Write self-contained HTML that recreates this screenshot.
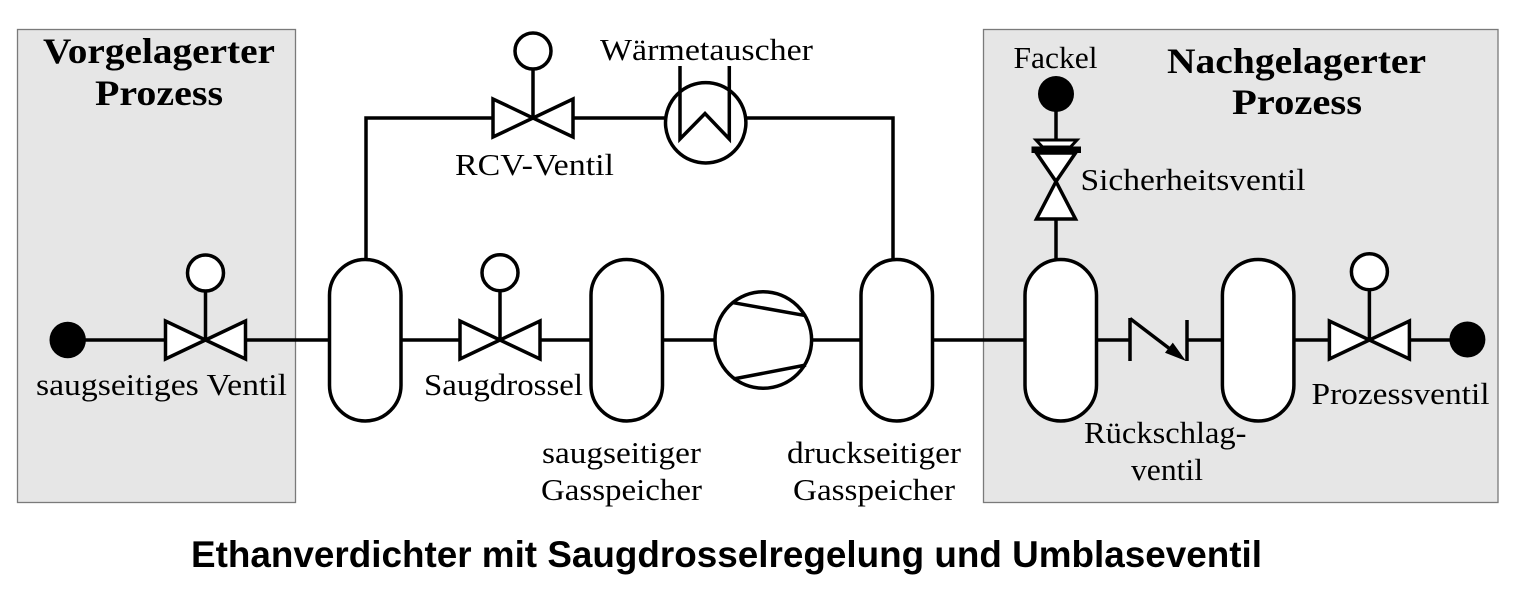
<!DOCTYPE html>
<html>
<head>
<meta charset="utf-8">
<style>
  html, body { margin: 0; padding: 0; background: #ffffff; }
  body { width: 1520px; height: 600px; overflow: hidden; }
  svg { display: block; }
  .lbl { font-family: "Liberation Serif", "DejaVu Serif", serif; font-size: 31px; fill: #000; }
  .hd { font-family: "Liberation Serif", "DejaVu Serif", serif; font-size: 36px; font-weight: bold; fill: #000; }
  .ttl { font-family: "Liberation Sans", Arial, sans-serif; font-size: 37px; font-weight: bold; fill: #000; }
</style>
</head>
<body>
<svg width="1520" height="600" viewBox="0 0 1520 600" xmlns="http://www.w3.org/2000/svg">
  <rect x="0" y="0" width="1520" height="600" fill="#ffffff"/>

  <!-- process boxes -->
  <rect x="17.5" y="29.5" width="278" height="473" fill="#e6e6e6" stroke="#7a7a7a" stroke-width="1.3"/>
  <rect x="983.5" y="29.5" width="514.5" height="473" fill="#e6e6e6" stroke="#7a7a7a" stroke-width="1.3"/>

  <g stroke="#000" stroke-width="3.5" fill="none" stroke-linejoin="miter">
    <!-- main line segments -->
    <line x1="68" y1="340" x2="165.5" y2="340"/>
    <line x1="245.5" y1="340" x2="329.5" y2="340"/>
    <line x1="401" y1="340" x2="460" y2="340"/>
    <line x1="540" y1="340" x2="591" y2="340"/>
    <line x1="662.5" y1="340" x2="715" y2="340"/>
    <line x1="811.5" y1="340" x2="861" y2="340"/>
    <line x1="932.5" y1="340" x2="1025" y2="340"/>
    <line x1="1096.5" y1="340" x2="1130" y2="340"/>
    <line x1="1187" y1="340" x2="1222.4" y2="340"/>
    <line x1="1293.9" y1="340" x2="1329.4" y2="340"/>
    <line x1="1409.4" y1="340" x2="1467" y2="340"/>

    <!-- bypass line -->
    <polyline points="366,259.5 366,118 493,118"/>
    <line x1="573" y1="118" x2="665" y2="118"/>
    <polyline points="746.5,118 893,118 893,259.5"/>

    <!-- tanks -->
    <rect x="329.5" y="259.5" width="71.5" height="161.5" rx="35.75" ry="35.75" fill="#fff"/>
    <rect x="591" y="259.5" width="71.5" height="161.5" rx="35.75" ry="35.75" fill="#fff"/>
    <rect x="861" y="259.5" width="71.5" height="161.5" rx="35.75" ry="35.75" fill="#fff"/>
    <rect x="1025" y="259.5" width="71.5" height="161.5" rx="35.75" ry="35.75" fill="#fff"/>
    <rect x="1222.4" y="259.5" width="71.5" height="161.5" rx="35.75" ry="35.75" fill="#fff"/>

    <!-- valve 1 (saugseitiges Ventil) -->
    <line x1="205.5" y1="340" x2="205.5" y2="291"/>
    <circle cx="205.5" cy="273" r="18" fill="#fff"/>
    <polygon points="165.5,321 165.5,359 205.5,340" fill="#fff"/>
    <polygon points="245.5,321 245.5,359 205.5,340" fill="#fff"/>

    <!-- valve 2 (Saugdrossel) -->
    <line x1="500" y1="340" x2="500" y2="291"/>
    <circle cx="500" cy="272.7" r="18" fill="#fff"/>
    <polygon points="460,321 460,359 500,340" fill="#fff"/>
    <polygon points="540,321 540,359 500,340" fill="#fff"/>

    <!-- RCV valve -->
    <line x1="533" y1="118" x2="533" y2="69"/>
    <circle cx="533" cy="51" r="18" fill="#fff"/>
    <polygon points="493,99 493,137 533,118" fill="#fff"/>
    <polygon points="573,99 573,137 533,118" fill="#fff"/>

    <!-- heat exchanger -->
    <circle cx="705.7" cy="122.8" r="40.2" fill="#fff"/>
    <polyline points="680,66 680,139 705,113.5 729.3,139 729.3,66"/>

    <!-- compressor -->
    <circle cx="763.3" cy="340" r="48.3" fill="#fff"/>
    <line x1="733.3" y1="302.7" x2="806" y2="315.7"/>
    <line x1="733.3" y1="379" x2="806" y2="365"/>

    <!-- check valve -->
    <line x1="1130" y1="318" x2="1130" y2="361"/>
    <line x1="1187" y1="320" x2="1187" y2="361"/>
    <line x1="1130" y1="318.5" x2="1172" y2="350.5"/>

    <!-- safety valve -->
    <line x1="1056" y1="94" x2="1056" y2="140"/>
    <polygon points="1036,140 1077,140 1070.5,147 1042.5,147" fill="#fff" stroke-width="3"/>
    <polygon points="1036.5,153 1075.5,153 1056,181.5" fill="#fff"/>
    <polygon points="1056,181.5 1036.5,219 1075.5,219" fill="#fff"/>
    <line x1="1056" y1="219" x2="1056" y2="259.5"/>

    <!-- Prozessventil -->
    <line x1="1369.4" y1="340" x2="1369.4" y2="290"/>
    <circle cx="1369.4" cy="271.7" r="18" fill="#fff"/>
    <polygon points="1329.4,321 1329.4,359 1369.4,340" fill="#fff"/>
    <polygon points="1409.4,321 1409.4,359 1369.4,340" fill="#fff"/>
  </g>

  <!-- safety valve bar -->
  <rect x="1031.5" y="146.5" width="49.5" height="6.5" fill="#000"/>
  <!-- check valve arrowhead -->
  <polygon points="1186,361 1165,352.8 1172.8,342.6" fill="#000"/>

  <!-- filled terminals -->
  <circle cx="67.7" cy="340" r="18.2" fill="#000"/>
  <circle cx="1467.4" cy="339.5" r="18" fill="#000"/>
  <circle cx="1056" cy="94" r="18" fill="#000"/>

  <!-- headings -->
  <text class="hd" x="43" y="63" textLength="232" lengthAdjust="spacingAndGlyphs">Vorgelagerter</text>
  <text class="hd" x="95" y="105" textLength="128" lengthAdjust="spacingAndGlyphs">Prozess</text>
  <text class="hd" x="1167" y="73" textLength="259" lengthAdjust="spacingAndGlyphs">Nachgelagerter</text>
  <text class="hd" x="1232" y="114" textLength="130" lengthAdjust="spacingAndGlyphs">Prozess</text>

  <!-- labels -->
  <text class="lbl" x="36" y="395" textLength="251" lengthAdjust="spacingAndGlyphs">saugseitiges Ventil</text>
  <text class="lbl" x="455" y="175" textLength="159" lengthAdjust="spacingAndGlyphs">RCV-Ventil</text>
  <text class="lbl" x="600" y="60" textLength="213" lengthAdjust="spacingAndGlyphs">Wärmetauscher</text>
  <text class="lbl" x="424" y="395" textLength="159" lengthAdjust="spacingAndGlyphs">Saugdrossel</text>
  <text class="lbl" x="542" y="463" textLength="159" lengthAdjust="spacingAndGlyphs">saugseitiger</text>
  <text class="lbl" x="541" y="500" textLength="161" lengthAdjust="spacingAndGlyphs">Gasspeicher</text>
  <text class="lbl" x="787" y="463" textLength="174" lengthAdjust="spacingAndGlyphs">druckseitiger</text>
  <text class="lbl" x="793" y="500" textLength="162" lengthAdjust="spacingAndGlyphs">Gasspeicher</text>
  <text class="lbl" x="1013.5" y="68" textLength="84" lengthAdjust="spacingAndGlyphs">Fackel</text>
  <text class="lbl" x="1080.5" y="190" textLength="225" lengthAdjust="spacingAndGlyphs">Sicherheitsventil</text>
  <text class="lbl" x="1084" y="443" textLength="162.5" lengthAdjust="spacingAndGlyphs">Rückschlag-</text>
  <text class="lbl" x="1131" y="480" textLength="72" lengthAdjust="spacingAndGlyphs">ventil</text>
  <text class="lbl" x="1311.5" y="404" textLength="178" lengthAdjust="spacingAndGlyphs">Prozessventil</text>

  <!-- title -->
  <text class="ttl" x="191" y="567" textLength="1071" lengthAdjust="spacingAndGlyphs">Ethanverdichter mit Saugdrosselregelung und Umblaseventil</text>
</svg>
</body>
</html>
